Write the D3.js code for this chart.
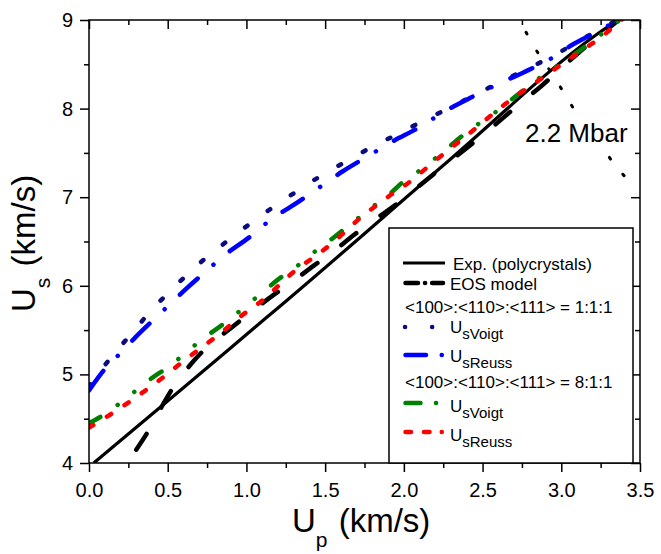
<!DOCTYPE html>
<html>
<head>
<meta charset="utf-8">
<script src="https://cdn.jsdelivr.net/npm/d3@7"></script>
<style>
  body { margin: 0; background: #fff; }
  svg { display: block; font-family: Arial, "Liberation Sans", sans-serif; }
</style>
</head>
<body>
<script>
// values (Up in km/s, Us in km/s)
const expUp = [0.03, 0.46, 1.12, 1.26, 2.29, 3.22, 3.40];
const expUs = [4.00, 4.64, 5.63, 5.84, 7.42, 8.83, 9.05];

const eosUp = [0.30, 0.38, 0.46, 0.53, 0.64, 0.75, 0.90, 1.02, 1.16, 1.28, 1.43, 1.54, 1.68, 1.81, 1.96, 2.07, 2.21, 2.50, 2.74, 2.87, 3.09, 3.40];
const eosUs = [4.15, 4.37, 4.63, 4.84, 5.10, 5.31, 5.52, 5.69, 5.88, 6.03, 6.23, 6.37, 6.57, 6.74, 6.93, 7.09, 7.29, 7.70, 8.06, 8.25, 8.60, 9.05];

const voigt111Up = [0.00, 0.13, 0.26, 0.40, 0.55, 0.70, 0.86, 1.03, 1.18, 1.34, 1.49, 1.65, 1.81, 1.97, 2.12, 2.27, 2.50, 2.75, 2.91, 3.22, 3.40];
const voigt111Us = [4.86, 5.17, 5.44, 5.73, 6.00, 6.25, 6.48, 6.71, 6.90, 7.09, 7.26, 7.42, 7.58, 7.72, 7.86, 7.99, 8.20, 8.42, 8.56, 8.87, 9.04];

const reuss111Up = [0.00, 0.11, 0.20, 0.29, 0.43, 0.525, 0.62, 0.76, 0.85, 1.02, 1.18, 1.28, 1.43, 1.61, 1.75, 1.94, 2.08, 2.27, 2.42, 2.59, 2.75, 2.94, 3.07, 3.22, 3.40];
const reuss111Us = [4.82, 5.08, 5.24, 5.41, 5.65, 5.81, 5.97, 6.19, 6.33, 6.55, 6.78, 6.89, 7.07, 7.29, 7.44, 7.64, 7.77, 7.98, 8.12, 8.27, 8.40, 8.57, 8.72, 8.86, 9.04];

const voigt811Up = [0.00, 0.10, 0.20, 0.30, 0.40, 0.50, 0.60, 0.70, 0.80, 0.90, 1.00, 1.10, 1.20, 1.30, 1.40, 1.50, 1.60, 1.70, 1.80, 1.90, 2.00, 2.10, 2.20, 2.42, 2.59, 2.81, 3.09, 3.40];
const voigt811Us = [4.45, 4.55, 4.68, 4.82, 4.96, 5.08, 5.22, 5.37, 5.50, 5.63, 5.78, 5.92, 6.07, 6.19, 6.34, 6.47, 6.61, 6.75, 6.89, 7.02, 7.18, 7.30, 7.44, 7.76, 7.97, 8.28, 8.62, 9.04];

const reuss811Up = [0.00, 0.12, 0.24, 0.36, 0.48, 0.60, 0.72, 0.84, 0.96, 1.09, 1.33, 1.45, 1.57, 1.68, 1.92, 2.05, 2.17, 2.43, 2.65, 2.89, 3.10, 3.24, 3.40];
const reuss811Us = [4.40, 4.53, 4.67, 4.82, 4.98, 5.15, 5.31, 5.47, 5.65, 5.82, 6.20, 6.35, 6.52, 6.70, 7.03, 7.19, 7.37, 7.74, 8.06, 8.36, 8.62, 8.79, 9.03];

const mbarUp = [2.776, 2.844, 2.918, 2.992, 3.077, 3.257, 3.335, 3.437];
const mbarUs = [8.861, 8.650, 8.455, 8.250, 8.003, 7.570, 7.375, 7.164];

const xMajor = [0, 0.5, 1.0, 1.5, 2.0, 2.5, 3.0, 3.5];
const xMinor = [0.25, 0.75, 1.25, 1.75, 2.25, 2.75, 3.25];
const yMajor = [4, 5, 6, 7, 8, 9];
const yMinor = [4.5, 5.5, 6.5, 7.5, 8.5];

const chartW = 661, chartH = 554;
const padL = 89, padR = 640, padT = 20, padB = 463;

const svg = d3.select("body").append("svg")
    .attr("width", chartW)
    .attr("height", chartH);

const x = d3.scaleLinear().domain([0, 3.5]).range([padL, padR]);
const y = d3.scaleLinear().domain([4, 9]).range([padB, padT]);

svg.append("defs").append("clipPath").attr("id", "plot")
    .append("rect")
    .attr("x", padL).attr("y", padT)
    .attr("width", padR - padL).attr("height", padB - padT);

const zip = (a, b) => a.map((v, i) => [v, b[i]]);
const line = d3.line().x(d => x(d[0])).y(d => y(d[1])).curve(d3.curveMonotoneX);

const series = [
    {up: expUp, us: expUs, color: "#000", w: 3.2, dash: null},
    {up: eosUp, us: eosUs, color: "#000", w: 4.5, dash: "19,30"},
    {up: voigt111Up, us: voigt111Us, color: "#0b0b80", w: 4.5, dash: "3,25"},
    {up: reuss111Up, us: reuss111Us, color: "#0000ff", w: 4.5, dash: "24,21,0.1,21"},
    {up: voigt811Up, us: voigt811Us, color: "#008000", w: 4.5, dash: "13,21,0.1,21,0.1,21"},
    {up: reuss811Up, us: reuss811Us, color: "#ff0000", w: 4.5, dash: "5,16"}
];

const curves = svg.append("g").attr("clip-path", "url(#plot)");
series.forEach(s => {
    curves.append("path")
        .datum(zip(s.up, s.us))
        .attr("d", line)
        .attr("fill", "none")
        .attr("stroke", s.color)
        .attr("stroke-width", s.w)
        .attr("stroke-linecap", s.dash ? "round" : "butt")
        .attr("stroke-dasharray", s.dash);
});

// 2.2 Mbar isobar
svg.append("path")
    .datum(zip(mbarUp, mbarUs))
    .attr("d", d3.line().x(d => x(d[0])).y(d => y(d[1])))
    .attr("fill", "none")
    .attr("stroke", "#000")
    .attr("stroke-width", 3)
    .attr("stroke-linecap", "round")
    .attr("stroke-dasharray", "2,19.5");

const mbarLabel = svg.append("text")
    .attr("x", 525).attr("y", 142)
    .attr("font-size", 26)
    .text("2.2 Mbar");
const bb = mbarLabel.node().getBBox();
svg.insert("rect", "text")
    .attr("x", bb.x).attr("y", bb.y + 3)
    .attr("width", bb.width).attr("height", bb.height - 3)
    .attr("fill", "#fff");

// axes
const styleAxis = g => {
    g.select(".domain").remove();
    g.selectAll(".tick line").attr("stroke", "#000").attr("stroke-width", 1.5);
    g.selectAll(".tick text").attr("fill", "#000").attr("font-size", 20)
        .attr("font-family", "Arial, 'Liberation Sans', sans-serif");
};

svg.append("g").attr("transform", "translate(0," + padB + ")")
    .call(d3.axisBottom(x).tickValues(xMajor).tickSize(9).tickPadding(11).tickFormat(d3.format(".1f")))
    .call(styleAxis);
svg.append("g").attr("transform", "translate(0," + padB + ")")
    .call(d3.axisBottom(x).tickValues(xMinor).tickSize(5).tickFormat(""))
    .call(styleAxis);
svg.append("g").attr("transform", "translate(0," + padT + ")")
    .call(d3.axisBottom(x).tickValues(xMajor).tickSize(9).tickFormat(""))
    .call(styleAxis);
svg.append("g").attr("transform", "translate(0," + padT + ")")
    .call(d3.axisBottom(x).tickValues(xMinor).tickSize(5).tickFormat(""))
    .call(styleAxis);

svg.append("g").attr("transform", "translate(" + padL + ",0)")
    .call(d3.axisLeft(y).tickValues(yMajor).tickSize(9).tickPadding(7).tickFormat(d3.format("d")))
    .call(styleAxis);
svg.append("g").attr("transform", "translate(" + padL + ",0)")
    .call(d3.axisLeft(y).tickValues(yMinor).tickSize(5).tickFormat(""))
    .call(styleAxis);
svg.append("g").attr("transform", "translate(" + padR + ",0)")
    .call(d3.axisLeft(y).tickValues(yMajor).tickSize(9).tickFormat(""))
    .call(styleAxis);
svg.append("g").attr("transform", "translate(" + padR + ",0)")
    .call(d3.axisLeft(y).tickValues(yMinor).tickSize(5).tickFormat(""))
    .call(styleAxis);

svg.append("rect")
    .attr("x", padL).attr("y", padT)
    .attr("width", padR - padL).attr("height", padB - padT)
    .attr("fill", "none").attr("stroke", "#000").attr("stroke-width", 1.5);

// axis titles
const xt = svg.append("text").attr("x", 292).attr("y", 532).attr("font-size", 33);
xt.append("tspan").text("U");
xt.append("tspan").attr("font-size", 21).attr("dy", 15).text("p");
xt.append("tspan").attr("dy", -15).attr("dx", 2).text(" (km/s)");

const yt = svg.append("text").attr("transform", "translate(35,312) rotate(-90)").attr("font-size", 33);
yt.append("tspan").text("U");
yt.append("tspan").attr("font-size", 21).attr("dy", 15).text("s");
yt.append("tspan").attr("dy", -15).attr("dx", 2).text(" (km/s)");

// legend
const lg = svg.append("g");
lg.append("rect")
    .attr("x", 389).attr("y", 228)
    .attr("width", 244).attr("height", padB - 228)
    .attr("fill", "#fff").attr("stroke", "#000").attr("stroke-width", 1.5);

const legendRows = [
    {y: 263, x1: 403, x2: 445, color: "#000", w: 3.2, dash: null, cap: "butt", label: "Exp. (polycrystals)", tx: 453, ty: 270},
    {y: 283, x1: 405.5, x2: 443, color: "#000", w: 4.5, dash: "12.5,7,0.1,7,20", cap: "round", label: "EOS model", tx: 450, ty: 290},
    {y: 327, x1: 405, x2: 433, color: "#0b0b80", w: 4.5, dash: "0.1,27", cap: "round", sub: "sVoigt", tx: 450, ty: 333},
    {y: 355, x1: 405.5, x2: 442, color: "#0000ff", w: 4.5, dash: "20.5,15.7,0.1,100", cap: "round", sub: "sReuss", tx: 450, ty: 362},
    {y: 403, x1: 405.5, x2: 437, color: "#008000", w: 4.5, dash: "15,15.5,0.1,100", cap: "round", sub: "sVoigt", tx: 450, ty: 412},
    {y: 432, x1: 405.5, x2: 442, color: "#ff0000", w: 4.5, dash: "5.5,13,5.5,12.2,0.1,100", cap: "round", sub: "sReuss", tx: 450, ty: 441}
];

legendRows.forEach(r => {
    lg.append("line")
        .attr("x1", r.x1).attr("x2", r.x2).attr("y1", r.y).attr("y2", r.y)
        .attr("stroke", r.color).attr("stroke-width", r.w)
        .attr("stroke-linecap", r.cap)
        .attr("stroke-dasharray", r.dash);
    const t = lg.append("text").attr("x", r.tx).attr("y", r.ty).attr("font-size", 17);
    if (r.sub) {
        t.append("tspan").text("U");
        t.append("tspan").attr("font-size", 15).attr("dy", 6).text(r.sub);
    } else {
        t.text(r.label);
    }
});

lg.append("text").attr("x", 405).attr("y", 313).attr("font-size", 17).text("<100>:<110>:<111> = 1:1:1");
lg.append("text").attr("x", 405).attr("y", 388).attr("font-size", 17).text("<100>:<110>:<111> = 8:1:1");
</script>
</body>
</html>
